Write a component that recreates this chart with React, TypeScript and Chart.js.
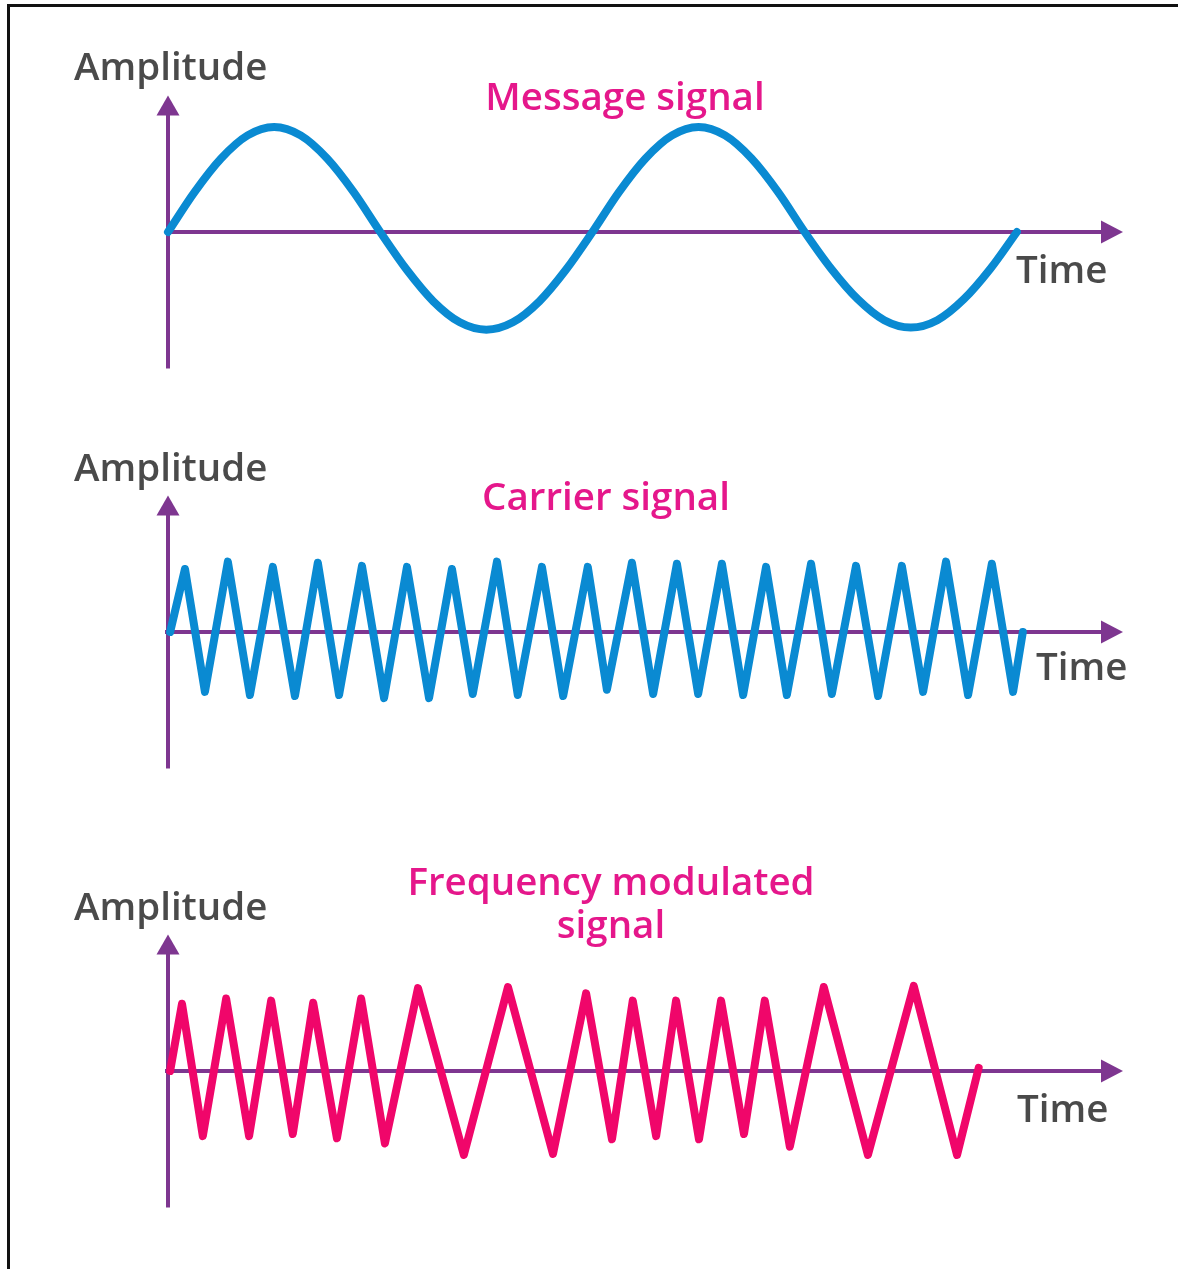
import React, { useEffect, useRef } from "react";
import { Chart, registerables } from "chart.js";

Chart.register(...registerables);

// ---- Data (time in arbitrary units, amplitude normalised) ----
const messageTime = [
  0, 0.625, 1.25, 1.875, 2.5, 3.125, 3.75, 4.375,
  5.0, 5.625, 6.25, 6.875, 7.5, 8.125, 8.75, 9.375,
  10.0, 10.625, 11.25, 11.875, 12.5, 13.125, 13.75, 14.375,
  15.0, 15.625, 16.25, 16.875, 17.5, 18.125, 18.75, 19.375,
  20.0,
];
const messageAmp = [
  0, 0.38, 0.7, 0.92, 1.0, 0.92, 0.7, 0.38,
  0, -0.36, -0.66, -0.86, -0.93, -0.86, -0.66, -0.36,
  0, 0.38, 0.7, 0.92, 1.0, 0.92, 0.7, 0.38,
  0, -0.35, -0.64, -0.84, -0.91, -0.84, -0.64, -0.35,
  0,
];

const carrierTime = [
  0.05,
  0.40, 0.87, 1.41, 1.93, 2.47, 2.99, 3.53, 4.03, 4.57, 5.09,
  5.63, 6.15, 6.69, 7.18, 7.75, 8.24, 8.81, 9.31, 9.89, 10.34,
  10.93, 11.43, 11.99, 12.49, 13.05, 13.55, 14.09, 14.58, 15.15, 15.64,
  16.21, 16.73, 17.29, 17.79, 18.33, 18.85, 19.41, 19.91,
  20.14,
];
const carrierAmp = [
  0,
  0.60, -0.57, 0.67, -0.60, 0.62, -0.61, 0.66, -0.60, 0.63, -0.63,
  0.62, -0.63, 0.60, -0.59, 0.67, -0.60, 0.62, -0.61, 0.62, -0.55,
  0.66, -0.59, 0.65, -0.59, 0.65, -0.60, 0.62, -0.60, 0.65, -0.59,
  0.63, -0.61, 0.63, -0.57, 0.67, -0.60, 0.65, -0.57,
  0,
];

const fmTime = [
  0.05,
  0.33, 0.82, 1.37, 1.91, 2.43, 2.94, 3.42, 3.98, 4.55, 5.11,
  5.89, 6.97, 8.01, 9.07, 9.85, 10.46, 10.95, 11.5, 11.97, 12.51,
  13.03, 13.57, 14.06, 14.65, 15.45, 16.49, 17.57, 18.59,
  19.1,
];
const fmAmp = [
  0,
  0.64, -0.62, 0.69, -0.62, 0.67, -0.6, 0.65, -0.64, 0.69, -0.69,
  0.79, -0.8, 0.8, -0.79, 0.74, -0.65, 0.67, -0.62, 0.67, -0.65,
  0.67, -0.6, 0.67, -0.72, 0.8, -0.8, 0.81, -0.8,
  0.03,
];

const TIME_MAX = 22.5;
const AMP_LIMIT = 1.3;

const AXIS_COLOR = "#7e3690";
const TEXT_GRAY = "#4a4a4a";
const TITLE_PINK = "#e5178b";
const BLUE = "#0a8ad2";
const FM_PINK = "#f0066a";

const FONT = "'Open Sans', 'DejaVu Sans', sans-serif";
const FS = 38.5;
const BASE = 0.888; // baseline offset (em) for line-height 1

const arrowAxes = {
  id: "arrowAxes",
  beforeDatasetsDraw(chart: any) {
    const { ctx, chartArea, scales } = chart;
    const x0 = scales.x.getPixelForValue(0);
    const y0 = scales.y.getPixelForValue(0);
    const { top, bottom, right } = chartArea;
    ctx.save();
    ctx.strokeStyle = AXIS_COLOR;
    ctx.fillStyle = AXIS_COLOR;
    ctx.lineWidth = 4;
    ctx.lineCap = "butt";
    ctx.beginPath();
    ctx.moveTo(x0, bottom);
    ctx.lineTo(x0, top + 18);
    ctx.stroke();
    ctx.beginPath();
    ctx.moveTo(x0, top);
    ctx.lineTo(x0 - 11.5, top + 20);
    ctx.lineTo(x0 + 11.5, top + 20);
    ctx.closePath();
    ctx.fill();
    ctx.beginPath();
    ctx.moveTo(x0 - 3, y0);
    ctx.lineTo(right - 20, y0);
    ctx.stroke();
    ctx.beginPath();
    ctx.moveTo(right, y0);
    ctx.lineTo(right - 22, y0 - 11.5);
    ctx.lineTo(right - 22, y0 + 11.5);
    ctx.closePath();
    ctx.fill();
    ctx.restore();
  },
};

type PanelProps = {
  time: number[];
  amp: number[];
  color: string;
  width: number;
  smooth: boolean;
  top: number;
  height: number;
  padTop: number;
  padBottom: number;
};

function Panel(p: PanelProps) {
  const ref = useRef<HTMLCanvasElement | null>(null);
  useEffect(() => {
    if (!ref.current) return;
    const pts = p.time.map((t, i) => ({ x: t, y: p.amp[i] }));
    const chart = new Chart(ref.current, {
      type: "line",
      data: {
        datasets: [
          {
            data: pts,
            borderColor: p.color,
            borderWidth: p.width,
            pointRadius: 0,
            fill: false,
            tension: p.smooth ? 0.4 : 0,
            cubicInterpolationMode: p.smooth ? "monotone" : "default",
            borderCapStyle: "round",
            borderJoinStyle: "round",
            clip: false,
          } as any,
        ],
      },
      options: {
        animation: false,
        responsive: false,
        events: [],
        layout: { padding: { left: 168, right: 1178 - 1123, top: p.padTop, bottom: p.padBottom } },
        plugins: { legend: { display: false }, tooltip: { enabled: false }, title: { display: false } },
        scales: {
          x: { type: "linear", min: 0, max: TIME_MAX, display: false },
          y: { type: "linear", min: -AMP_LIMIT, max: AMP_LIMIT, display: false },
        },
      },
      plugins: [arrowAxes],
    });
    return () => chart.destroy();
  }, []);
  return (
    <canvas
      ref={ref}
      width={1178}
      height={p.height}
      style={{ position: "absolute", left: 0, top: p.top, width: 1178, height: p.height }}
    />
  );
}

function Label(props: { text: string; x: number; baseline: number; color: string; center?: boolean }) {
  const style: React.CSSProperties = {
    position: "absolute",
    top: props.baseline - BASE * FS,
    fontFamily: FONT,
    fontWeight: 600,
    fontSize: FS,
    lineHeight: 1,
    color: props.color,
    whiteSpace: "nowrap",
  };
  if (props.center) {
    style.left = props.x - 300;
    style.width = 600;
    style.textAlign = "center";
  } else {
    style.left = props.x;
  }
  return <div style={style}>{props.text}</div>;
}

export default function App() {
  return (
    <div
      style={{
        position: "absolute",
        left: 0,
        top: 0,
        width: 1178,
        height: 1269,
        background: "#fff",
        overflow: "hidden",
      }}
    >
      <div
        style={{
          position: "absolute",
          left: 7,
          top: 4,
          right: 0,
          bottom: 0,
          borderTop: "3px solid #111",
          borderLeft: "3px solid #111",
        }}
      />
      <Panel time={messageTime} amp={messageAmp} color={BLUE} width={8} smooth={true} top={0} height={420} padTop={95.5} padBottom={51.5} />
      <Panel time={carrierTime} amp={carrierAmp} color={BLUE} width={8} smooth={false} top={420} height={400} padTop={75.5} padBottom={51.5} />
      <Panel time={fmTime} amp={fmAmp} color={FM_PINK} width={8} smooth={false} top={820} height={449} padTop={114.5} padBottom={61.5} />

      <Label text="Amplitude" x={74} baseline={80} color={TEXT_GRAY} />
      <Label text="Message signal" x={625} baseline={110} color={TITLE_PINK} center />
      <Label text="Time" x={1016} baseline={283} color={TEXT_GRAY} />

      <Label text="Amplitude" x={74} baseline={481} color={TEXT_GRAY} />
      <Label text="Carrier signal" x={606} baseline={510} color={TITLE_PINK} center />
      <Label text="Time" x={1036} baseline={680} color={TEXT_GRAY} />

      <Label text="Amplitude" x={74} baseline={920} color={TEXT_GRAY} />
      <Label text="Frequency modulated" x={611} baseline={895} color={TITLE_PINK} center />
      <Label text="signal" x={611} baseline={938} color={TITLE_PINK} center />
      <Label text="Time" x={1017} baseline={1122} color={TEXT_GRAY} />
    </div>
  );
}
